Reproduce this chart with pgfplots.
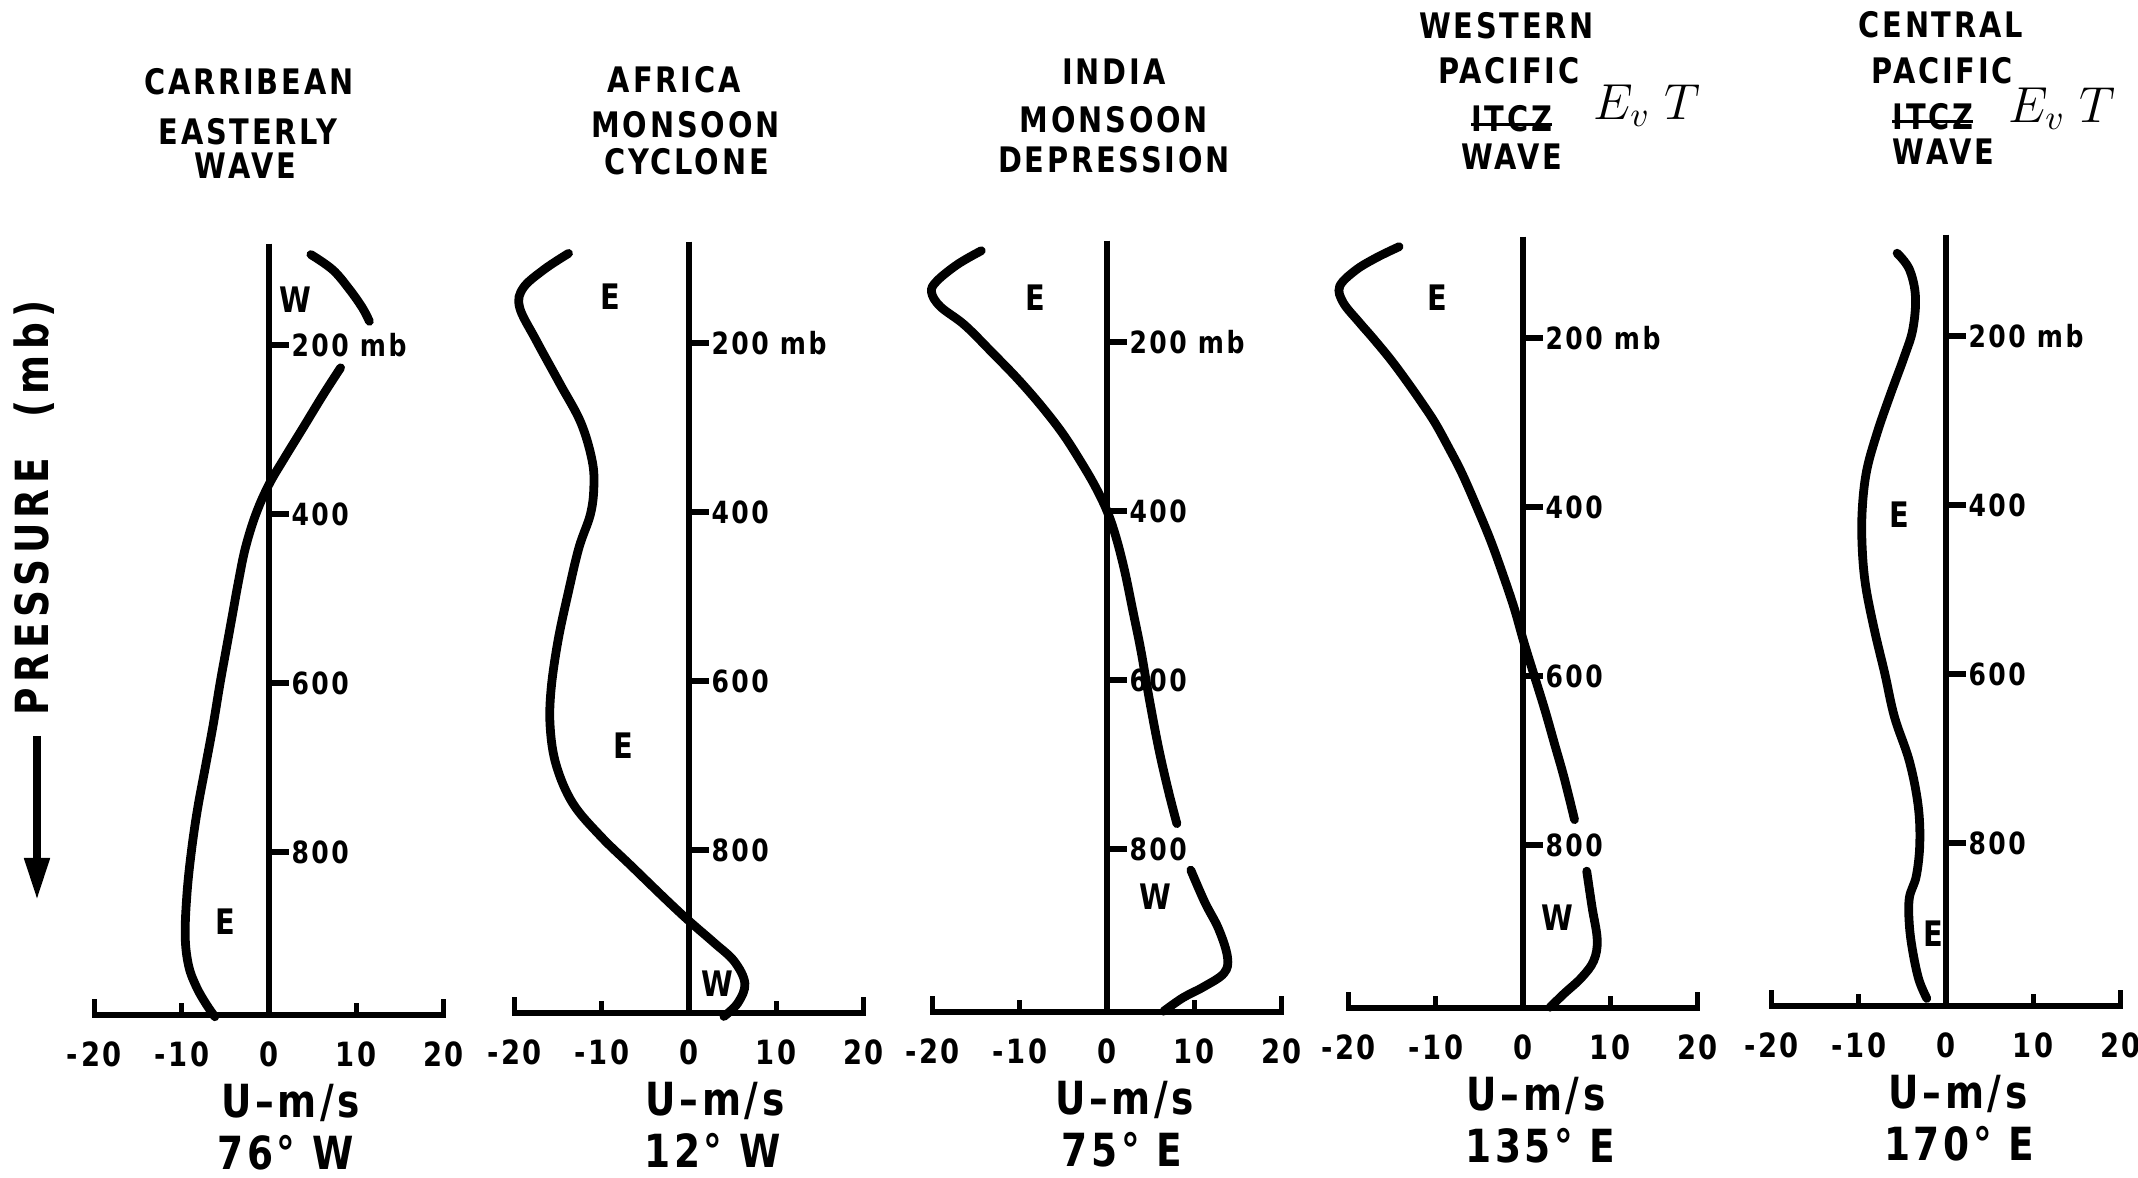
\documentclass[border=0pt]{standalone}
\usepackage{pgfplots}
\pgfplotsset{compat=1.18}
\usepackage{fontspec}
\setmainfont{DejaVu Sans}[FakeStretch=0.82,LetterSpace=8]
\usetikzlibrary{arrows.meta}
\newcommand\fs[1]{\fontsize{#1}{#1}\selectfont\bfseries}
\newcommand\strike[1]{\setbox0\hbox{#1}\rlap{\rule[0.3ex]{\wd0}{0.9pt}}\box0}
\pgfplotsset{
  panel/.style={hide axis, clip=false, scale only axis, width=3.492cm, height=7.774cm,
    xmin=-20, xmax=20, ymin=80, ymax=1000, y dir=reverse, anchor=north west},
  crv/.style={black, line width=2.5pt, smooth, tension=0.6, no marks, line cap=round},
  axl/.style={black, line width=1.5pt, no marks, line join=miter},
}
\newcommand\paxes{%
  \addplot[axl] coordinates {(0,80) (0,993)};
  \addplot[axl] coordinates {(-20,974) (-20,993) (20,993) (20,974)};
  \addplot[axl] coordinates {(-10,993) (-10,979)};
  \addplot[axl] coordinates {(10,993) (10,979)};
  \addplot[axl] coordinates {(0,200) (2.3,200)};
  \addplot[axl] coordinates {(0,400) (2.3,400)};
  \addplot[axl] coordinates {(0,600) (2.3,600)};
  \addplot[axl] coordinates {(0,800) (2.3,800)};
  \node[anchor=west,inner sep=0.5pt,font=\fs{8.7}] at (axis cs:2.3,200) {200 mb};
  \node[anchor=west,inner sep=0.5pt,font=\fs{8.7}] at (axis cs:2.3,400) {400};
  \node[anchor=west,inner sep=0.5pt,font=\fs{8.7}] at (axis cs:2.3,600) {600};
  \node[anchor=west,inner sep=0.5pt,font=\fs{8.7}] at (axis cs:2.3,800) {800};
  \node[font=\fs{9.5}] at (axis cs:-20,1040) {-20};
  \node[font=\fs{9.5}] at (axis cs:-10,1040) {-10};
  \node[font=\fs{9.5}] at (axis cs:0,1040) {0};
  \node[font=\fs{9.5}] at (axis cs:10,1040) {10};
  \node[font=\fs{9.5}] at (axis cs:20,1040) {20};
}
\begin{document}
\begin{tikzpicture}
\useasboundingbox (0,0) rectangle (21.38,11.78);
% ---------- Panel 1
\begin{axis}[panel, at={(0.944cm,9.344cm)}]
\paxes
\addplot[crv] coordinates {(8.2,227) (6.2,259) (3.9,298) (1.7,335) (0,365) (-1.5,400) (-2.7,440) (-3.5,480) (-4.2,520) (-4.9,560) (-5.6,600) (-6.4,650) (-7.3,700) (-8.2,750) (-8.9,800) (-9.4,850) (-9.6,900) (-9.2,935) (-8.3,960) (-7.2,980) (-6.2,995)};
\addplot[crv] coordinates {(4.8,93) (7.3,111) (9.2,134) (10.7,156) (11.5,172)};
\node[font=\fs{10}] at (axis cs:3,146) {W};
\node[font=\fs{10}] at (axis cs:-5,882) {E};
\node[font=\fs{10}] at (axis cs:-2.3,-111) {CARRIBEAN};
\node[font=\fs{10}] at (axis cs:-2.4,-52) {EASTERLY};
\node[font=\fs{10}] at (axis cs:-2.7,-12) {WAVE};
\node[font=\fs{13}] at (axis cs:2.5,1097) {U--m/s};
\node[font=\fs{13}] at (axis cs:1.9,1156) {76° W};
\end{axis}
% ---------- Panel 2
\begin{axis}[panel, at={(5.144cm,9.364cm)}]
\paxes
\addplot[crv] coordinates {(-13.8,94) (-16.6,113) (-19.0,135) (-19.4,158) (-17.5,197) (-14.8,248) (-12.4,294) (-11.1,339) (-10.9,371) (-11.3,403) (-12.6,442) (-13.8,494) (-15.0,552) (-15.8,610) (-15.9,655) (-15.2,700) (-13.3,745) (-10.1,784) (-6.6,819) (-2.7,858) (0,884) (2.9,910) (5.2,932) (6.4,958) (5.6,981) (4.0,997)};
\node[font=\fs{10}] at (axis cs:-9,145) {E};
\node[font=\fs{10}] at (axis cs:-7.5,677) {E};
\node[font=\fs{10}] at (axis cs:3.2,958) {W};
\node[font=\fs{10}] at (axis cs:-1.7,-112) {AFRICA};
\node[font=\fs{10}] at (axis cs:-0.4,-58) {MONSOON};
\node[font=\fs{10}] at (axis cs:-0.3,-14) {CYCLONE};
\node[font=\fs{13}] at (axis cs:3,1097) {U--m/s};
\node[font=\fs{13}] at (axis cs:2.7,1156) {12° W};
\end{axis}
% ---------- Panel 3
\begin{axis}[panel, at={(9.324cm,9.374cm)}]
\paxes
\addplot[crv] coordinates {(-14.4,92) (-17.1,108) (-19.5,128) (-20.1,141) (-19.1,158) (-16.3,180) (-13.2,212) (-10.2,244) (-7.5,276) (-5.1,308) (-3.1,340) (-1.4,370) (0,400) (1.0,430) (2.0,470) (3.0,520) (3.9,566) (4.8,620) (5.9,680) (7.0,730) (8.0,770)};
\addplot[crv] coordinates {(9.6,825) (11.2,863) (12.8,895) (13.8,928) (13.4,947) (11.1,963) (8.7,976) (6.5,992)};
\node[font=\fs{10}] at (axis cs:-8.2,147) {E};
\node[font=\fs{10}] at (axis cs:5.5,857) {W};
\node[font=\fs{10}] at (axis cs:0.8,-120) {INDIA};
\node[font=\fs{10}] at (axis cs:0.8,-63) {MONSOON};
\node[font=\fs{10}] at (axis cs:0.8,-16) {DEPRESSION};
\node[font=\fs{13}] at (axis cs:2.0,1097) {U--m/s};
\node[font=\fs{13}] at (axis cs:1.7,1156) {75° E};
\end{axis}
% ---------- Panel 4
\begin{axis}[panel, at={(13.484cm,9.414cm)}]
\paxes
\addplot[crv] coordinates {(-14.2,92) (-16.8,105) (-19.2,120) (-21.0,139) (-20.6,158) (-18.8,181) (-17.2,200) (-15.2,225) (-13.4,250) (-11.7,275) (-10.1,300) (-8.5,330) (-7.0,360) (-5.3,400) (-3.7,440) (-2.3,480) (-1.0,520) (0.1,560) (1.3,600) (2.5,640) (3.6,680) (4.7,720) (5.9,770)};
\addplot[crv] coordinates {(7.3,831) (7.9,873) (8.5,912) (8.1,937) (6.7,957) (4.7,976) (3.1,992)};
\node[font=\fs{10}] at (axis cs:-9.8,152) {E};
\node[font=\fs{10}] at (axis cs:3.9,886) {W};
\node[font=\fs{10}] at (axis cs:-1.9,-170) {WESTERN};
\node[font=\fs{10}] at (axis cs:-1.6,-116) {PACIFIC};
\node[font=\fs{10}] at (axis cs:-1.3,-59) {\strike{ITCZ}};
\node[font=\fs{10}] at (axis cs:-1.3,-14) {WAVE};
\node[font=\fontsize{14}{14}\selectfont] at (axis cs:14.2,-75) {$E_{v}\;T$};
\node[font=\fs{13}] at (axis cs:1.5,1097) {U--m/s};
\node[font=\fs{13}] at (axis cs:2.0,1156) {135° E};
\end{axis}
% ---------- Panel 5
\begin{axis}[panel, at={(17.714cm,9.434cm)}]
\paxes
\addplot[crv] coordinates {(-5.6,102) (-4.2,121) (-3.5,153) (-3.8,192) (-4.8,225) (-6.4,270) (-7.9,315) (-9.1,360) (-9.6,406) (-9.6,451) (-9.2,496) (-8.2,548) (-7.0,600) (-5.9,651) (-4.2,703) (-3.2,755) (-3.0,800) (-3.4,839) (-4.2,865) (-4.2,897) (-3.8,929) (-3.1,962) (-2.2,984)};
\node[font=\fs{10}] at (axis cs:-5.3,412) {E};
\node[font=\fs{10}] at (axis cs:-1.5,907) {E};
\node[font=\fs{10}] at (axis cs:-0.6,-168) {CENTRAL};
\node[font=\fs{10}] at (axis cs:-0.4,-114) {PACIFIC};
\node[font=\fs{10}] at (axis cs:-1.5,-60) {\strike{ITCZ}};
\node[font=\fs{10}] at (axis cs:-0.3,-18) {WAVE};
\node[font=\fontsize{14}{14}\selectfont] at (axis cs:13.3,-69) {$E_{v}\;T$};
\node[font=\fs{13}] at (axis cs:1.4,1097) {U--m/s};
\node[font=\fs{13}] at (axis cs:1.5,1156) {170° E};
\end{axis}
% ---------- left label
\node[rotate=90, font=\fs{13}\addfontfeature{LetterSpace=12}] at (0.34,6.70) {PRESSURE\hspace{0.9em}(mb)};
\draw[line width=2.2pt, -{Triangle[width=0.24cm,length=0.42cm]}] (0.37,4.42) -- (0.37,2.78);
\end{tikzpicture}
\end{document}
